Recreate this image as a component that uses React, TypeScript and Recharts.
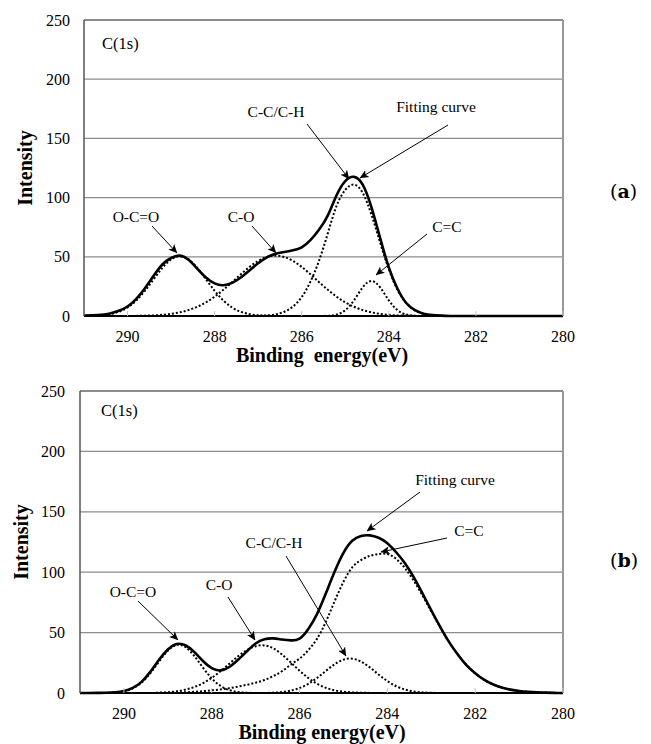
import { LineChart, Line, XAxis, YAxis, CartesianGrid, ReferenceLine } from 'recharts';

// binding energy grid (eV), shared by both panels
const ENERGY = [
  291.0, 290.8, 290.6, 290.4, 290.2, 290.0, 289.8, 289.6, 289.4, 289.2,
  289.0, 288.8, 288.6, 288.4, 288.2, 288.0, 287.8, 287.6, 287.4, 287.2,
  287.0, 286.8, 286.6, 286.4, 286.2, 286.0, 285.8, 285.6, 285.4, 285.2,
  285.0, 284.8, 284.6, 284.4, 284.2, 284.0, 283.8, 283.6, 283.4, 283.2,
  283.0, 282.8, 282.6, 282.4, 282.2, 282.0, 281.8, 281.6, 281.4, 281.2,
  281.0, 280.8, 280.6, 280.4, 280.2, 280.0,
];

const X_TICKS = [290, 288, 286, 284, 282, 280];
const Y_TICKS = [0, 50, 100, 150, 200, 250];

// panel (a)
const A_FIT = [
  0.3, 0.5, 1.0, 2.2, 4.5, 8, 14.5, 23.5, 34, 43.5,
  49, 51, 47.5, 40, 32.5, 27.5, 26, 28, 32.5, 38.5,
  44.5, 49.5, 52.5, 54, 55.5, 58, 64, 73, 85, 102,
  114, 117.5, 111, 92, 66, 41, 23, 11, 5, 2,
  0.8, 0.3, 0, 0, 0, 0, 0, 0, 0, 0,
  0, 0, 0, 0, 0, 0,
];
const A_OCO = [
  0, 0.2, 0.6, 1.6, 3.6, 7.2, 13.1, 21.3, 31.1, 40.7,
  47.8, 50.5, 47.8, 40.7, 31.1, 21.3, 13.1, 7.2, 3.6, 1.6,
  0.6, 0.2, 0, 0, 0, 0, 0, 0, 0, 0,
  0, 0, 0, 0, 0, 0, 0, 0, 0, 0,
  0, 0, 0, 0, 0, 0, 0, 0, 0, 0,
  0, 0, 0, 0, 0, 0,
];
const A_CO = [
  0, 0, 0, 0, 0, 0, 0.1, 0.3, 0.5, 1.0,
  1.8, 3.1, 5.0, 7.8, 11.5, 16.3, 22.1, 28.5, 35.2, 41.4,
  46.5, 49.8, 51, 49.8, 46.5, 41.4, 35.2, 28.5, 22.1, 16.3,
  11.5, 7.8, 5.0, 3.1, 1.8, 1.0, 0.5, 0.3, 0.1, 0,
  0, 0, 0, 0, 0, 0, 0, 0, 0, 0,
  0, 0, 0, 0, 0, 0,
];
const A_CC = [
  0, 0, 0, 0, 0, 0, 0, 0, 0, 0,
  0, 0, 0, 0, 0, 0, 0, 0, 0, 0,
  0.1, 0.5, 1.4, 3.6, 8.0, 16, 29, 47, 70, 93,
  106.5, 111, 104, 85.8, 62.1, 39.5, 22.1, 10.9, 4.7, 1.8,
  0.6, 0.2, 0, 0, 0, 0, 0, 0, 0, 0,
  0, 0, 0, 0, 0, 0,
];
const A_CEC = [
  0, 0, 0, 0, 0, 0, 0, 0, 0, 0,
  0, 0, 0, 0, 0, 0, 0, 0, 0, 0,
  0, 0, 0, 0, 0, 0, 0, 0, 0.2, 1.2,
  4.9, 13.2, 24.2, 29.5, 24.2, 13.2, 4.9, 1.2, 0.2, 0,
  0, 0, 0, 0, 0, 0, 0, 0, 0, 0,
  0, 0, 0, 0, 0, 0,
];

// panel (b)
const B_FIT = [
  0, 0, 0.1, 0.2, 0.6, 1.6, 4.2, 9.2, 17.5, 27.5,
  36, 40.5, 39.5, 34, 26.5, 20.5, 18.7, 21.5, 27.5, 34.5,
  41, 44.5, 45.2, 44.3, 43.6, 45, 53, 65.5, 82.5, 100.5,
  116, 126, 130, 130.5, 128.5, 124, 116.5, 107.5, 96, 82.5,
  68.5, 55, 42.5, 32, 23, 16.3, 11, 7.2, 4.5, 2.8,
  1.6, 0.9, 0.5, 0.3, 0.1, 0,
];
const B_OCO = [
  0, 0, 0, 0.1, 0.5, 1.4, 3.8, 8.6, 16.3, 26,
  35, 39.8, 38.1, 30.8, 21, 12.1, 5.9, 2.4, 0.8, 0.2,
  0, 0, 0, 0, 0, 0, 0, 0, 0, 0,
  0, 0, 0, 0, 0, 0, 0, 0, 0, 0,
  0, 0, 0, 0, 0, 0, 0, 0, 0, 0,
  0, 0, 0, 0, 0, 0,
];
const B_CO = [
  0, 0, 0, 0, 0, 0, 0, 0, 0, 0.3,
  0.7, 1.4, 2.8, 4.9, 8.1, 12.5, 18.0, 24.2, 30.4, 35.5,
  38.7, 39.4, 37.0, 31.9, 25.3, 18.5, 12.4, 7.6, 4.3, 2.2,
  1.1, 0.5, 0.2, 0.1, 0, 0, 0, 0, 0, 0,
  0, 0, 0, 0, 0, 0, 0, 0, 0, 0,
  0, 0, 0, 0, 0, 0,
];
const B_CC = [
  0, 0, 0, 0, 0, 0, 0, 0, 0, 0,
  0, 0, 0, 0, 0, 0, 0, 0, 0, 0,
  0, 0, 0.3, 0.8, 2.0, 4.1, 7.6, 12.5, 18.3, 23.8,
  27.6, 28.4, 26, 21.2, 15.3, 9.9, 5.6, 2.9, 1.3, 0.5,
  0.2, 0, 0, 0, 0, 0, 0, 0, 0, 0,
  0, 0, 0, 0, 0, 0,
];
const B_CEC = [
  0, 0, 0, 0, 0, 0, 0, 0, 0, 0,
  0.1, 0.3, 0.6, 1.0, 1.5, 2.2, 3.0, 4.0, 5.3, 6.8,
  8.5, 10.8, 14, 18, 23.5, 28.5, 35.5, 45, 59, 76,
  92, 104, 110, 113.5, 115, 115.1, 111.1, 103.4, 93, 80.7,
  67.5, 54.6, 42.5, 32, 23.3, 16.3, 11, 7.2, 4.5, 2.8,
  1.6, 0.9, 0.5, 0.3, 0.1, 0,
];

const SERIF = '"Liberation Serif", "Times New Roman", serif';

function buildRows(fit: number[], oco: number[], co: number[], cc: number[], cec: number[]) {
  return ENERGY.map((e, i) => ({ e, fit: fit[i], oco: oco[i], co: co[i], cc: cc[i], cec: cec[i] }));
}

function XTick({ x, y, payload }: { x?: number; y?: number; payload?: { value: number } }) {
  if (x == null || y == null || !payload) return null;
  return (
    <g>
      <line x1={x} x2={x} y1={y - 15} y2={y - 20} stroke="#c4c4c4" strokeWidth={1} />
      <text x={x} y={y} dy="0.71em" textAnchor="middle" fontFamily={SERIF} fontSize={16} fill="#000">
        {payload.value}
      </text>
    </g>
  );
}

interface PanelProps {
  rows: ReturnType<typeof buildRows>;
  margin: { top: number; right: number; bottom: number; left: number };
  yTickMargin: number;
}

function Panel({ rows, margin, yTickMargin }: PanelProps) {
  const dotted = { type: 'natural' as const, stroke: '#000', strokeWidth: 2, strokeDasharray: '2 2', dot: false, activeDot: false, isAnimationActive: false };
  return (
    <LineChart width={651} height={372} data={rows} margin={margin}>
      <CartesianGrid vertical={false} stroke="#8c8c8c" strokeWidth={1.2} />
      <XAxis
        type="number"
        dataKey="e"
        domain={[280, 291]}
        reversed
        ticks={X_TICKS}
        allowDataOverflow
        height={30}
        tickSize={0}
        tickMargin={15}
        axisLine={{ stroke: '#000', strokeWidth: 2 }}
        tick={<XTick />}
      />
      <YAxis
        domain={[0, 250]}
        ticks={Y_TICKS}
        width={60}
        tickSize={0}
        tickMargin={yTickMargin}
        axisLine={{ stroke: '#555', strokeWidth: 1.5 }}
        tick={{ fontFamily: SERIF, fontSize: 16, fill: '#000' }}
      />
      <ReferenceLine y={250} stroke="#777" strokeWidth={1.5} />
      <ReferenceLine x={280} stroke="#999" strokeWidth={2} />
      <Line dataKey="oco" {...dotted} />
      <Line dataKey="co" {...dotted} />
      <Line dataKey="cc" {...dotted} />
      <Line dataKey="cec" {...dotted} />
      <Line dataKey="fit" type="natural" stroke="#000" strokeWidth={2.6} dot={false} activeDot={false} isAnimationActive={false} />
    </LineChart>
  );
}

function Arrow({ x1, y1, x2, y2 }: { x1: number; y1: number; x2: number; y2: number }) {
  return <line x1={x1} y1={y1} x2={x2} y2={y2} stroke="#000" strokeWidth={1} markerEnd="url(#head)" />;
}

function Note({ x, y, children }: { x: number; y: number; children: string }) {
  return (
    <text x={x} y={y} textAnchor="middle" fontFamily={SERIF} fontSize={15.5} fill="#000">
      {children}
    </text>
  );
}

function Overlay() {
  const title = { fontFamily: SERIF, fontSize: 20, fontWeight: 700, fill: '#000' };
  return (
    <svg width={651} height={744} style={{ position: 'absolute', left: 0, top: 0, pointerEvents: 'none' }}>
      <defs>
        <marker id="head" viewBox="0 0 10 10" refX="9.5" refY="5" markerWidth="9" markerHeight="9" markerUnits="userSpaceOnUse" orient="auto">
          <path d="M0,0.5 L10,5 L0,9.5 L2.5,5 z" fill="#000" />
        </marker>
      </defs>

      {/* panel (a) */}
      <text x={102} y={48.5} fontFamily={SERIF} fontSize={16.5} fill="#000">C(1s)</text>
      <Note x={136} y={222}>O-C=O</Note>
      <Note x={241} y={222}>C-O</Note>
      <Note x={276} y={117}>C-C/C-H</Note>
      <Note x={436} y={112}>Fitting curve</Note>
      <Note x={447} y={232}>C=C</Note>
      <Arrow x1={152} y1={226} x2={177} y2={253} />
      <Arrow x1={252} y1={226} x2={276} y2={253} />
      <Arrow x1={307} y1={124} x2={349} y2={179} />
      <Arrow x1={448} y1={125} x2={360} y2={178} />
      <Arrow x1={427} y1={234} x2={376} y2={275} />
      <text {...title} transform="translate(32,168) rotate(-90)" textAnchor="middle">Intensity</text>
      <text {...title} x={322} y={362} textAnchor="middle" style={{ whiteSpace: 'pre' }}>{'Binding  energy(eV)'}</text>
      <text x={610} y={198} fontFamily='"DejaVu Serif", serif' fontSize={19} fill="#000">
        (<tspan fontWeight={700}>a</tspan>)
      </text>

      {/* panel (b) */}
      <text x={101} y={415.5} fontFamily={SERIF} fontSize={16.5} fill="#000">C(1s)</text>
      <Note x={133} y={597}>O-C=O</Note>
      <Note x={219} y={590}>C-O</Note>
      <Note x={274} y={548}>C-C/C-H</Note>
      <Note x={455} y={485}>Fitting curve</Note>
      <Note x={469} y={536}>C=C</Note>
      <Arrow x1={138} y1={601} x2={178} y2={640} />
      <Arrow x1={228} y1={597} x2={255} y2={640} />
      <Arrow x1={286} y1={556} x2={346} y2={656} />
      <Arrow x1={420} y1={492} x2={367} y2={531} />
      <Arrow x1={447} y1={538} x2={381} y2={552} />
      <text {...title} transform="translate(28,542) rotate(-90)" textAnchor="middle">Intensity</text>
      <text {...title} x={322} y={739} textAnchor="middle">Binding energy(eV)</text>
      <text x={610} y={567} fontFamily='"DejaVu Serif", serif' fontSize={19} fill="#000">
        (<tspan fontWeight={700}>b</tspan>)
      </text>
    </svg>
  );
}

export default function App() {
  const rowsA = buildRows(A_FIT, A_OCO, A_CO, A_CC, A_CEC);
  const rowsB = buildRows(B_FIT, B_OCO, B_CO, B_CC, B_CEC);
  return (
    <div style={{ position: 'absolute', left: 0, top: 0, width: 651, height: 744, background: '#fff' }}>
      <div style={{ position: 'absolute', left: 0, top: 0 }}>
        <Panel rows={rowsA} margin={{ top: 20, right: 88, bottom: 26, left: 24 }} yTickMargin={14} />
      </div>
      <div style={{ position: 'absolute', left: 0, top: 372 }}>
        <Panel rows={rowsB} margin={{ top: 19, right: 88, bottom: 21, left: 20 }} yTickMargin={15} />
      </div>
      <Overlay />
    </div>
  );
}
